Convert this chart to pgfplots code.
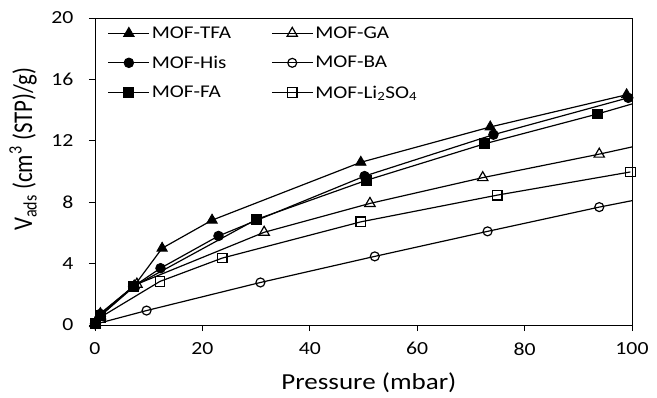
\documentclass[border=0pt]{standalone}
\usepackage{fontspec}
\setmainfont{Carlito}[FakeStretch=1.18]
\newfontfamily\plainfont{Carlito}
\usepackage{pgfplots}
\pgfplotsset{compat=1.18}
\begin{document}
\begin{tikzpicture}
\begin{axis}[
  scale only axis,
  width=537bp, height=307bp,
  xmin=0, xmax=100, ymin=0, ymax=20,
  xtick={0,20,...,100}, ytick={0,4,...,20},
  tick align=outside, tick pos=left,
  major tick length=6bp,
  axis line style={line width=0.9pt},
  tick style={line width=0.9pt, black},
  /pgf/number format/assume math mode=true,
  ticklabel style={font=\fontsize{18.5}{22}\selectfont},
  xticklabel style={yshift=-8bp},
  yticklabel style={xshift=-12bp},
  xlabel style={font=\fontsize{23}{27}\selectfont, at={(axis description cs:0.51,-0.21)}, anchor=base},
  ylabel style={font=\plainfont\fontsize{23}{27}\selectfont, at={(axis description cs:-0.134,0.573)}, anchor=center, yscale=1.18},
  xlabel={Pressure (mbar)},
  ylabel={V\textsubscript{ads} (cm\textsuperscript{3} (STP)/g)},
  legend columns=2,
  legend cell align=left,
  legend style={draw=none, fill=none, at={(0.018,0.985)}, anchor=north west,
    font=\fontsize{18}{22}\selectfont,
    /tikz/every odd column/.append style={column sep=0bp},
    /tikz/every even column/.append style={column sep=38bp},
    row sep=12bp},
  legend image code/.code={\draw[mark repeat=2,mark phase=2,#1] plot coordinates {(0cm,0cm) (0.72cm,0cm) (1.44cm,0cm)};},
  every axis plot/.append style={black, line width=1.2pt, mark options={solid, line width=0.9pt}},
]
\addplot[mark=triangle*, mark size=6pt] coordinates {(0,0.1) (1,0.75) (7.3,2.55) (12.5,5.0) (21.8,6.83) (49.5,10.6) (73.6,12.9) (99,15.0)};
\addlegendentry{MOF-TFA}
\addplot[mark=triangle, mark size=6pt, mark options={fill=white}] coordinates {(0,0.1) (1,0.6) (7.8,2.66) (31.5,6.04) (51.2,7.92) (72.2,9.6) (93.9,11.13)};
\addlegendentry{MOF-GA}
\addplot[mark=*, mark size=4.8pt] coordinates {(0,0.1) (1,0.72) (7.1,2.5) (12.2,3.7) (23,5.8) (50.2,9.7) (74.2,12.4) (99.3,14.8)};
\addlegendentry{MOF-His}
\addplot[mark=o, mark size=4.5pt, mark options={fill=white}] coordinates {(0,0.05) (9.6,0.94) (30.8,2.77) (52.1,4.47) (73.1,6.1) (93.9,7.68)};
\addlegendentry{MOF-BA}
\addplot[mark=square*, mark size=5pt] coordinates {(0,0.1) (1,0.6) (7.1,2.5) (30,6.87) (50.5,9.42) (72.5,11.8) (93.6,13.75)};
\addlegendentry{MOF-FA}
\addplot[mark=square, mark size=4.8pt, mark options={fill=white}] coordinates {(0,0.1) (1,0.5) (12.1,2.84) (23.7,4.36) (49.5,6.72) (74.9,8.46) (99.7,9.97)};
\addlegendentry{MOF-Li\textsubscript{2}SO\textsubscript{4}}
\addplot[forget plot] coordinates {(93.9,11.13) (100,11.6)};
\addplot[forget plot] coordinates {(93.9,7.68) (100,8.1)};
\addplot[forget plot] coordinates {(93.6,13.75) (100,14.4)};
\end{axis}
\pgfresetboundingbox
\path[use as bounding box] ([xshift=-95bp,yshift=-73bp]current axis.south west) rectangle ([xshift=25bp,yshift=18bp]current axis.north east);
\end{tikzpicture}
\end{document}
